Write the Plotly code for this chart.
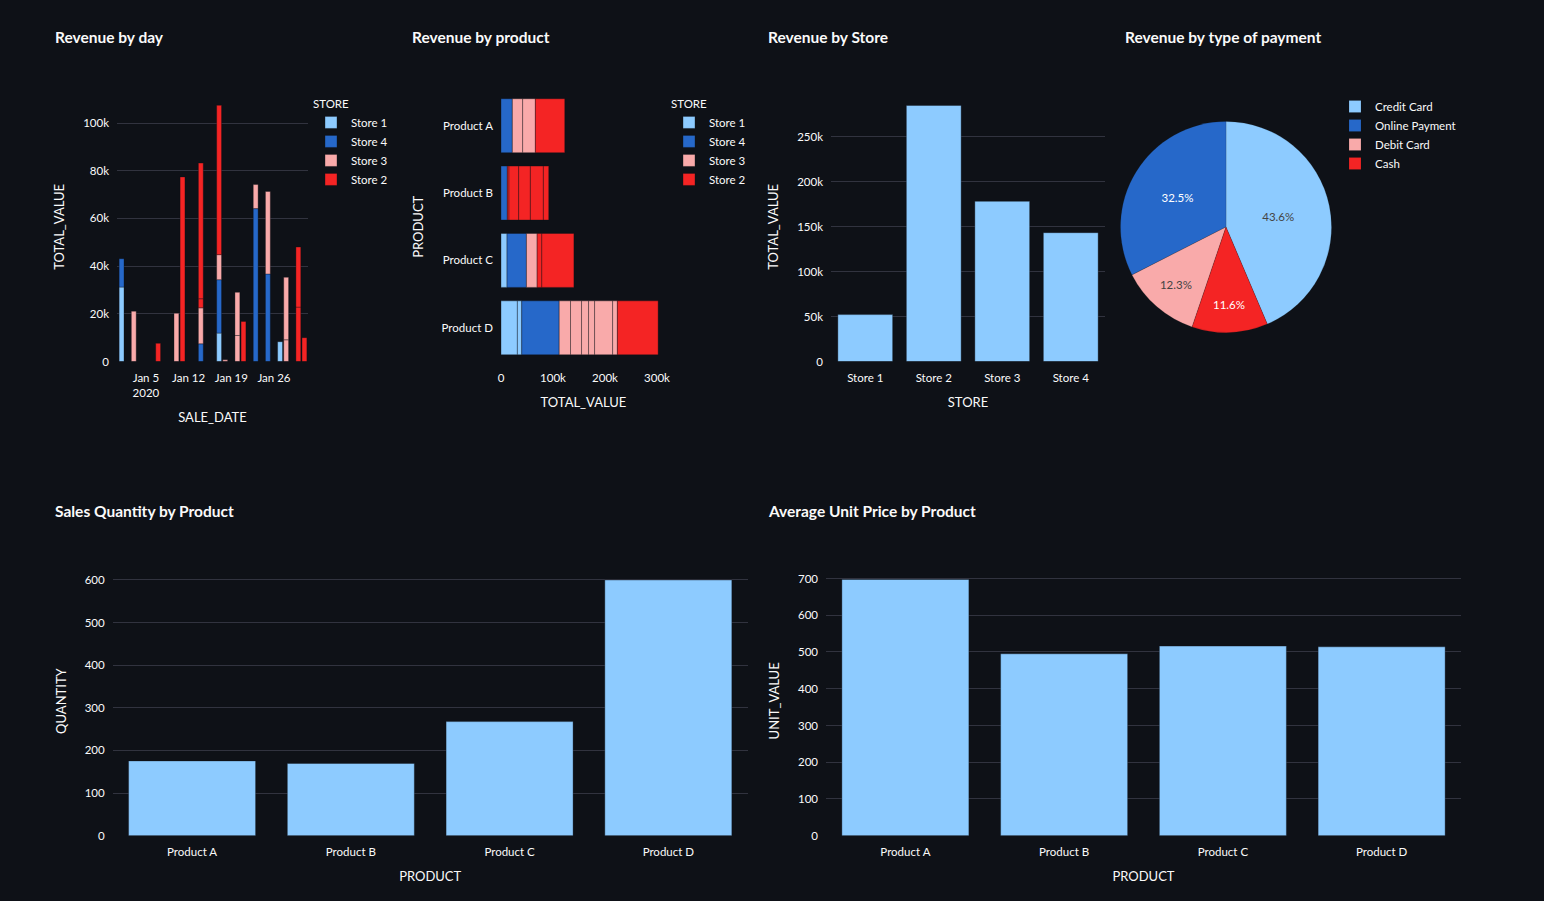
import plotly.graph_objects as go

W, H = 1544, 901
BG = "#0E1117"
TXT = "#FAFAFA"
GRID = "#31333F"
FONT = "Lato, 'Source Sans Pro', sans-serif"

STORE_ORDER = ["Store 1", "Store 4", "Store 3", "Store 2"]
STORE_COLORS = {"Store 1": "#8DCBFF", "Store 4": "#2668C9",
                "Store 3": "#F9AAAA", "Store 2": "#F42424"}
LINE = dict(color="rgba(14,17,23,0.35)", width=1)

# ---- Revenue by day (one row per sale) ----
day_store = (["Store 1"] * 3 + ["Store 4"] * 5 + ["Store 3"] * 11 + ["Store 2"] * 9)
day_date = [
    "2020-01-01", "2020-01-17", "2020-01-27",
    "2020-01-01", "2020-01-14", "2020-01-17", "2020-01-23", "2020-01-25",
    "2020-01-03", "2020-01-10", "2020-01-14", "2020-01-17", "2020-01-18",
    "2020-01-20", "2020-01-20", "2020-01-23", "2020-01-25", "2020-01-28", "2020-01-28",
    "2020-01-07", "2020-01-11", "2020-01-14", "2020-01-14", "2020-01-17",
    "2020-01-21", "2020-01-30", "2020-01-30", "2020-01-31",
]
day_value = [
    31200, 11900, 8300,
    11900, 7400, 22400, 64100, 36700,
    21100, 20200, 15100, 10500, 700, 10900, 18100, 10100, 34600, 9100, 26200,
    7600, 77400, 3800, 56900, 62600, 16800, 22800, 25200, 10000,
]

# ---- Revenue by product (one row per sale) ----
prod_store = (["Store 1"] * 3 + ["Store 4"] * 4 + ["Store 3"] * 9 + ["Store 2"] * 9)
prod_name = [
    "Product C", "Product D", "Product D",
    "Product A", "Product B", "Product C", "Product D",
    "Product A", "Product A", "Product C", "Product D", "Product D", "Product D",
    "Product D", "Product D", "Product D",
    "Product A", "Product B", "Product B", "Product B", "Product B", "Product B",
    "Product C", "Product C", "Product D",
]
prod_value = [
    11600, 31500, 8400,
    21800, 12200, 37300, 72000,
    19900, 24400, 20600, 21800, 21200, 13500, 11600, 34700, 9100,
    56500, 3200, 18600, 22500, 25000, 10300, 9000, 61700, 78400,
]
PRODUCTS = ["Product A", "Product B", "Product C", "Product D"]

# ---- Revenue by store ----
stores = ["Store 1", "Store 2", "Store 3", "Store 4"]
store_total = [52100, 284400, 177900, 143100]

# ---- Revenue by type of payment ----
pay_labels = ["Credit Card", "Online Payment", "Debit Card", "Cash"]
pay_share = [43.6, 32.5, 12.3, 11.6]
pay_colors = ["#8DCBFF", "#2668C9", "#F9AAAA", "#F42424"]

# ---- Quantity / unit price by product ----
qty = [175.5, 169.4, 267.7, 600]
unit_price = [697.3, 495, 516, 514]


def xd(a, b):
    return [a / W, b / W]


def yd(top, bottom):
    return [1 - bottom / H, 1 - top / H]


fig = go.Figure()

for s in STORE_ORDER:
    xs = [d for d, st in zip(day_date, day_store) if st == s]
    ys = [v for v, st in zip(day_value, day_store) if st == s]
    fig.add_trace(go.Bar(x=xs, y=ys, name=s, marker=dict(color=STORE_COLORS[s], line=LINE),
                         xaxis="x", yaxis="y", legend="legend", legendgroup="d" + s))

for s in STORE_ORDER:
    ys = [p for p, st in zip(prod_name, prod_store) if st == s]
    xs = [v for v, st in zip(prod_value, prod_store) if st == s]
    fig.add_trace(go.Bar(x=xs, y=ys, name=s, orientation="h",
                         marker=dict(color=STORE_COLORS[s], line=LINE),
                         xaxis="x2", yaxis="y2", legend="legend2", legendgroup="p" + s))

fig.add_trace(go.Bar(x=stores, y=store_total, marker=dict(color="#8DCBFF", line=LINE),
                     xaxis="x3", yaxis="y3", showlegend=False))

fig.add_trace(go.Pie(labels=pay_labels, values=pay_share,
                     marker=dict(colors=pay_colors, line=dict(color="rgba(14,17,23,0.3)", width=0.5)),
                     domain=dict(x=xd(1120.5, 1331.5), y=yd(121.5, 332.5)),
                     textfont=dict(size=11.5), legend="legend3", hoverinfo="label+percent"))

fig.add_trace(go.Bar(x=PRODUCTS, y=qty, marker=dict(color="#8DCBFF", line=LINE),
                     xaxis="x4", yaxis="y4", showlegend=False))
fig.add_trace(go.Bar(x=PRODUCTS, y=unit_price, marker=dict(color="#8DCBFF", line=LINE),
                     xaxis="x5", yaxis="y5", showlegend=False))

TS = 11.5
tickf = dict(size=TS, color=TXT, family=FONT)
titf = dict(size=13, color=TXT, family=FONT)


def xax(dom, anchor, title, **kw):
    d = dict(domain=dom, anchor=anchor, title=dict(text=title, font=titf, standoff=14),
             tickfont=tickf, automargin=False, ticklabelstandoff=8,
             showgrid=False, zeroline=False, showline=False, ticks="")
    d.update(kw)
    return d


def yax(dom, anchor, title, **kw):
    d = dict(domain=dom, anchor=anchor, title=dict(text=title, font=titf, standoff=15),
             tickfont=tickf, automargin=False, ticklabelstandoff=7,
             showgrid=True, gridcolor=GRID, gridwidth=1, zeroline=False, showline=False, ticks="")
    d.update(kw)
    return d


legend_common = dict(font=dict(size=TS, color=TXT, family=FONT), bgcolor="rgba(0,0,0,0)",
                     xanchor="left", yanchor="top", tracegroupgap=0)

fig.update_layout(
    width=W, height=H, autosize=False,
    margin=dict(l=0, r=0, t=0, b=0, autoexpand=False),
    paper_bgcolor=BG, plot_bgcolor=BG,
    font=dict(family=FONT, color=TXT, size=12),
    barmode="relative", bargap=0.2,
    xaxis=xax(xd(117, 308), "y", "SALE_DATE", type="date",
              range=["2019-12-31 06:00", "2020-01-31 14:00"],
              tick0="2020-01-05", dtick=7 * 86400000),
    yaxis=yax(yd(92, 361.5), "x", "TOTAL_VALUE", range=[0, 113000], dtick=20000),
    xaxis2=xax(xd(501, 666), "y2", "TOTAL_VALUE", range=[0, 317300], dtick=100000),
    yaxis2=yax(yd(92, 361.5), "x2", "PRODUCT", showgrid=False, type="category",
               categoryorder="array", categoryarray=PRODUCTS[::-1]),
    xaxis3=xax(xd(831, 1105), "y3", "STORE"),
    yaxis3=yax(yd(92, 361.5), "x3", "TOTAL_VALUE", range=[0, 299400], dtick=50000),
    xaxis4=xax(xd(112.7, 747.7), "y4", "PRODUCT"),
    yaxis4=yax(yd(566.5, 835.7), "x4", "QUANTITY", range=[0, 631.6], dtick=100),
    xaxis5=xax(xd(826, 1461), "y5", "PRODUCT"),
    yaxis5=yax(yd(566, 835.7), "x5", "UNIT_VALUE", range=[0, 734], dtick=100),
    legend=dict(legend_common, x=311 / W, y=1 - 93 / H,
                title=dict(text="STORE", font=dict(size=TS, color=TXT, family=FONT))),
    legend2=dict(legend_common, x=669 / W, y=1 - 93 / H,
                 title=dict(text="STORE", font=dict(size=TS, color=TXT, family=FONT))),
    legend3=dict(legend_common, x=1335 / W, y=1 - 92 / H),
)

titles = [("Revenue by day", 55, 37), ("Revenue by product", 412, 37),
          ("Revenue by Store", 768, 37), ("Revenue by type of payment", 1125, 37),
          ("Sales Quantity by Product", 55, 511), ("Average Unit Price by Product", 768, 511)]
for t, x, y in titles:
    fig.add_annotation(text="<b>%s</b>" % t, x=(x - 2) / W, y=1 - y / H, xref="paper", yref="paper",
                       xanchor="left", yanchor="middle", showarrow=False,
                       font=dict(size=15.5, color=TXT, family=FONT))

fig.write_html("out.html")
